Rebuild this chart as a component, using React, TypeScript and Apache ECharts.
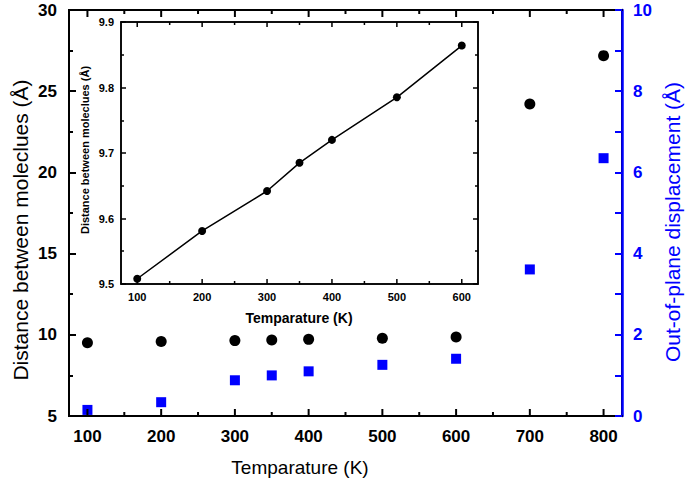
import React, { useEffect, useRef } from "react";
import * as echarts from "echarts";

const temps = [100, 200, 300, 350, 400, 500, 600, 700, 800];
const distance = [9.508, 9.581, 9.642, 9.684, 9.719, 9.784, 9.864, 24.21, 27.19];
const displacement = [0.15, 0.34, 0.88, 1.0, 1.1, 1.26, 1.41, 3.61, 6.35];

const insetTemps = [100, 200, 300, 350, 400, 500, 600];
const insetDistance = [9.508, 9.581, 9.642, 9.685, 9.72, 9.785, 9.864];

const mainMajorX = [100, 200, 300, 400, 500, 600, 700, 800];
const mainMinorX = [150, 250, 350, 450, 550, 650, 750];
const insetMajorX = [100, 200, 300, 400, 500, 600];
const insetMinorX = [150, 250, 350, 450, 550];

const FONT = "Liberation Sans, Arial, sans-serif";
const BLUE = "#0000ff";

function xAxisDef(grid: number, pos: string, min: number, max: number, w: number, labels: boolean, labelSize: number) {
  return {
    type: "value",
    gridIndex: grid,
    position: pos,
    min,
    max,
    interval: 25,
    axisLine: { show: true, onZero: false, lineStyle: { color: "#000", width: w } },
    axisTick: { show: false },
    axisLabel: labels
      ? {
          show: true,
          color: "#000",
          fontWeight: "bold",
          fontSize: labelSize,
          fontFamily: FONT,
          margin: labelSize > 12 ? 12 : 7,
          showMinLabel: false,
          showMaxLabel: false,
          formatter: (v: number) => (Math.round(v) % 100 === 0 ? String(Math.round(v)) : ""),
        }
      : { show: false },
    splitLine: { show: false },
  };
}

function yAxisDef(grid: number, pos: string, min: number, max: number, interval: number, color: string, w: number, len: number, minorLen: number, label: any) {
  const tw = w > 2 ? 2 : w;
  return {
    type: "value",
    gridIndex: grid,
    position: pos,
    min,
    max,
    interval,
    axisLine: { show: true, onZero: false, lineStyle: { color, width: w } },
    axisTick: { show: true, inside: true, length: len, lineStyle: { color, width: tw } },
    minorTick: { show: true, splitNumber: 2, length: minorLen, lineStyle: { color, width: tw } },
    axisLabel: label,
    splitLine: { show: false },
  };
}

// x-axis tick marks drawn through the axis scale (custom series), on bottom and top edges
function tickSeries(xIdx: number, yIdx: number, yMin: number, yMax: number, values: number[], len: number, w: number) {
  return {
    type: "custom",
    xAxisIndex: xIdx,
    yAxisIndex: yIdx,
    clip: false,
    silent: true,
    z: 6,
    data: values.map((v) => [v, yMin]),
    renderItem: (_p: any, api: any) => {
      const v = api.value(0);
      const b = api.coord([v, yMin]);
      const t = api.coord([v, yMax]);
      return {
        type: "group",
        children: [
          { type: "line", shape: { x1: b[0], y1: b[1], x2: b[0], y2: b[1] - len }, style: { stroke: "#000", lineWidth: w } },
          { type: "line", shape: { x1: t[0], y1: t[1], x2: t[0], y2: t[1] + len }, style: { stroke: "#000", lineWidth: w } },
        ],
      };
    },
  };
}

export default function App() {
  const ref = useRef<HTMLDivElement>(null);
  useEffect(() => {
    if (!ref.current) return;
    const chart = echarts.init(ref.current, undefined, { renderer: "svg" });
    const option = {
      animation: false,
      backgroundColor: "#fff",
      textStyle: { fontFamily: FONT },
      grid: [
        { left: 69, top: 10, right: 63, bottom: 66, show: true, borderColor: "#000", borderWidth: 2, backgroundColor: "transparent" },
        { left: 121, top: 22, width: 357, height: 262, show: true, backgroundColor: "#fff", borderColor: "#000", borderWidth: 1.5 },
      ],
      xAxis: [
        xAxisDef(0, "bottom", 75, 825, 2, true, 17),
        xAxisDef(0, "top", 75, 825, 2, false, 17),
        xAxisDef(1, "bottom", 75, 625, 1.5, true, 11),
        xAxisDef(1, "top", 75, 625, 1.5, false, 11),
      ],
      yAxis: [
        yAxisDef(0, "left", 5, 30, 5, "#000", 2, 7, 4, { color: "#000", fontWeight: "bold", fontSize: 17, fontFamily: FONT, margin: 12 }),
        yAxisDef(0, "right", 0, 10, 2, BLUE, 2.5, 7, 7, { color: BLUE, fontWeight: "bold", fontSize: 17, fontFamily: FONT, margin: 11 }),
        yAxisDef(1, "left", 9.5, 9.9, 0.1, "#000", 1.5, 5, 3, { color: "#000", fontWeight: "bold", fontSize: 11, fontFamily: FONT, margin: 7, formatter: (v: number) => v.toFixed(1) }),
        yAxisDef(1, "right", 9.5, 9.9, 0.1, "#000", 1.5, 5, 3, { show: false }),
      ],
      series: [
        tickSeries(0, 0, 5, 30, mainMajorX, 7, 2),
        tickSeries(0, 0, 5, 30, mainMinorX, 4, 2),
        tickSeries(2, 2, 9.5, 9.9, insetMajorX, 5, 1.5),
        tickSeries(2, 2, 9.5, 9.9, insetMinorX, 3, 1.5),
        {
          type: "scatter",
          xAxisIndex: 0,
          yAxisIndex: 0,
          symbol: "circle",
          symbolSize: 11,
          itemStyle: { color: "#000", opacity: 1 },
          data: temps.map((t, i) => [t, distance[i]]),
        },
        {
          type: "scatter",
          xAxisIndex: 0,
          yAxisIndex: 1,
          symbol: "rect",
          symbolSize: 10,
          itemStyle: { color: BLUE, opacity: 1 },
          data: temps.map((t, i) => [t, displacement[i]]),
        },
        {
          type: "line",
          xAxisIndex: 2,
          yAxisIndex: 2,
          symbol: "circle",
          symbolSize: 8,
          showSymbol: true,
          z: 10,
          lineStyle: { color: "#000", width: 1.5 },
          itemStyle: { color: "#000", opacity: 1 },
          data: insetTemps.map((t, i) => [t, insetDistance[i]]),
        },
      ],
      graphic: [
        {
          type: "text",
          x: 20,
          y: 230,
          rotation: Math.PI / 2,
          style: { text: "Distance between moleclues (Å)", fontSize: 21, fontFamily: FONT, fill: "#000", align: "center", verticalAlign: "middle" },
        },
        {
          type: "text",
          x: 672,
          y: 222,
          rotation: Math.PI / 2,
          style: { text: "Out-of-plane displacement (Å)", fontSize: 21, fontFamily: FONT, fill: BLUE, align: "center", verticalAlign: "middle" },
        },
        {
          type: "text",
          x: 300,
          y: 467,
          style: { text: "Temparature (K)", fontSize: 19, fontFamily: FONT, fill: "#000", align: "center", verticalAlign: "middle" },
        },
        {
          type: "text",
          x: 85,
          y: 150,
          rotation: Math.PI / 2,
          z: 20,
          style: { text: "Distance between moleclues (Å)", fontSize: 11, fontWeight: "bold", fontFamily: FONT, fill: "#000", align: "center", verticalAlign: "middle" },
        },
        {
          type: "text",
          x: 299,
          y: 318,
          z: 20,
          style: { text: "Temparature (K)", fontSize: 14, fontWeight: "bold", fontFamily: FONT, fill: "#000", align: "center", verticalAlign: "middle" },
        },
      ],
    };
    chart.setOption(option as any);
    return () => chart.dispose();
  }, []);
  return <div ref={ref} style={{ position: "fixed", left: 0, top: 0, width: 685, height: 482 }} />;
}
